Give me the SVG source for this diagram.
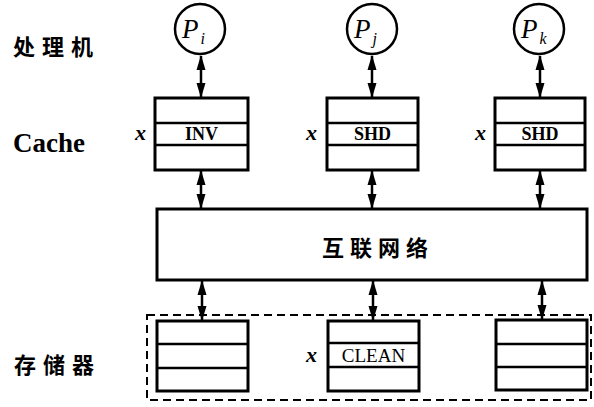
<svg xmlns="http://www.w3.org/2000/svg" width="594" height="407" viewBox="0 0 594 407">
<style>
.box{fill:#fff;stroke:#000;stroke-width:3}
.row{stroke:#000;stroke-width:2.5}
.cn{font-family:"Noto Sans CJK SC","Noto Sans CJK JP",sans-serif;font-size:22px;font-weight:700;fill:#000}
.lbl{font-family:"Liberation Serif",serif;font-weight:700;fill:#000}
.var{font-family:"Liberation Serif",serif;font-style:italic;font-weight:700;font-size:22px;fill:#000}
.proc{font-family:"Liberation Serif",serif;font-style:italic;font-size:27px;fill:#000}
.arr{stroke:#000;stroke-width:2.5;fill:none;marker-start:url(#ah);marker-end:url(#ah)}
</style>
<defs>
<marker id="ah" markerUnits="userSpaceOnUse" markerWidth="15" markerHeight="10" refX="14" refY="5" orient="auto-start-reverse">
<path d="M0,0.5 L15,5 L0,9.5 Z" fill="#000"/>
</marker>
</defs>
<rect width="594" height="407" fill="#fff"/>

<g id="labels">
<text class="cn" x="13" y="55" letter-spacing="7">处理机</text>
<text class="lbl" x="13" y="152" font-size="27">Cache</text>
<text class="cn" x="14" y="373" letter-spacing="7">存储器</text>
</g>

<g id="memory-group">
<rect x="147" y="315" width="444" height="85" fill="none" stroke="#000" stroke-width="2" stroke-dasharray="8,5"/>
</g>

<g id="connectors">
<line class="arr" x1="201" y1="56" x2="201" y2="97"/>
<line class="arr" x1="372" y1="56" x2="372" y2="97"/>
<line class="arr" x1="540" y1="56" x2="540" y2="97"/>
<line class="arr" x1="201" y1="171" x2="201" y2="208"/>
<line class="arr" x1="372" y1="171" x2="372" y2="208"/>
<line class="arr" x1="540" y1="171" x2="540" y2="208"/>
<line class="arr" x1="202" y1="281" x2="202" y2="320"/>
<line class="arr" x1="373" y1="281" x2="373" y2="320"/>
<line class="arr" x1="542" y1="281" x2="542" y2="319"/>
</g>

<g id="Pi">
<circle cx="200" cy="29" r="25" fill="#fff" stroke="#000" stroke-width="2.5"/>
<text class="proc" x="182" y="38">P<tspan font-size="16" dx="2" dy="6">i</tspan></text>
</g>
<g id="Pj">
<circle cx="372" cy="29" r="25" fill="#fff" stroke="#000" stroke-width="2.5"/>
<text class="proc" x="354" y="38">P<tspan font-size="16" dx="2" dy="6">j</tspan></text>
</g>
<g id="Pk">
<circle cx="539" cy="29" r="25" fill="#fff" stroke="#000" stroke-width="2.5"/>
<text class="proc" x="521" y="38">P<tspan font-size="16" dx="2" dy="6">k</tspan></text>
</g>

<g id="cache-i">
<rect class="box" x="155" y="98" width="93" height="72"/>
<line class="row" x1="155" y1="123" x2="248" y2="123"/>
<line class="row" x1="155" y1="145" x2="248" y2="145"/>
<text class="lbl" x="201.5" y="140" font-size="18" text-anchor="middle">INV</text>
<text class="var" x="135" y="140">x</text>
</g>
<g id="cache-j">
<rect class="box" x="327" y="98" width="91" height="72"/>
<line class="row" x1="327" y1="123" x2="418" y2="123"/>
<line class="row" x1="327" y1="145" x2="418" y2="145"/>
<text class="lbl" x="372.5" y="140" font-size="18" text-anchor="middle">SHD</text>
<text class="var" x="306" y="140">x</text>
</g>
<g id="cache-k">
<rect class="box" x="495" y="98" width="90" height="72"/>
<line class="row" x1="495" y1="123" x2="585" y2="123"/>
<line class="row" x1="495" y1="145" x2="585" y2="145"/>
<text class="lbl" x="540" y="140" font-size="18" text-anchor="middle">SHD</text>
<text class="var" x="475" y="140">x</text>
</g>

<g id="network">
<rect class="box" x="157" y="209" width="430" height="71"/>
<text class="cn" x="322" y="256" letter-spacing="6">互联网络</text>
</g>

<g id="mem-i">
<rect class="box" x="157" y="321" width="91" height="70"/>
<line class="row" x1="157" y1="344" x2="248" y2="344"/>
<line class="row" x1="157" y1="368" x2="248" y2="368"/>
</g>
<g id="mem-j">
<rect class="box" x="328" y="321" width="91" height="70"/>
<line class="row" x1="328" y1="343" x2="419" y2="343"/>
<line class="row" x1="328" y1="367" x2="419" y2="367"/>
<text x="373.5" y="362" font-family="Liberation Serif, serif" font-size="19" text-anchor="middle">CLEAN</text>
<text class="var" x="306" y="362">x</text>
</g>
<g id="mem-k">
<rect class="box" x="496" y="320" width="91" height="70"/>
<line class="row" x1="496" y1="344" x2="587" y2="344"/>
<line class="row" x1="496" y1="367" x2="587" y2="367"/>
</g>
</svg>
